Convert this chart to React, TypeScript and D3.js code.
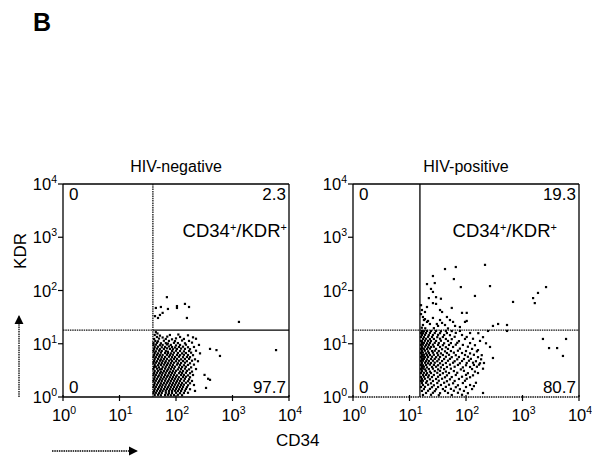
import React from 'react';
import * as d3 from 'd3';

// flow cytometry: CD34 (x) vs KDR (y), log scales 10^0..10^4
const panelTitles = ['HIV-negative', 'HIV-positive'];
const gateCD34 = [39, 15.3];
const gateKDR = [18, 18];
const labelTopLeft = ['0', '0'];
const labelTopRight = ['2.3', '19.3'];
const labelBottomLeft = ['0', '0'];
const labelBottomRight = ['97.7', '80.7'];
const tickExponents = [0, 1, 2, 3, 4];

const negativeEvents: [number, number][] = [
  // upper right
  [69, 75], [44, 47], [54, 49], [72, 45], [104, 47], [104, 51], [144, 56], [170, 49],
  [42.5, 33], [52, 34.7], [58, 38], [48, 30.5], [156, 30.5], [1300, 25.7],
  // lower right
  [44, 16.5], [47, 15.6],
  [42, 14.6], [52, 14.2], [78, 14.6], [110, 14.9], [163, 14.4],
  [46, 13.4], [58, 13.1], [70, 13.6], [118, 13.4], [200, 13.2],
  [41, 12.3], [50, 12.5], [66, 12.3], [85, 12.1], [100, 12.6], [138, 12.3], [226, 12.4],
  [43, 11.3], [48, 11.1], [61, 11.4], [75, 11.3], [96, 11.2], [128, 11.5], [170, 11.3],
  [40, 10.3], [46, 10.4], [54, 10.2], [66, 10.3], [72, 10.1], [92, 10.4], [108, 10.3], [144, 10.2], [192, 10.5],
  [40, 9.5], [44, 9.6], [52, 9.4], [58, 9.5], [69, 9.7], [81, 9.5], [100, 9.3], [118, 9.5], [150, 9.6], [255, 9.5],
  [42, 8.7], [48, 8.8], [56, 8.6], [64, 8.7], [75, 8.9], [85, 8.7], [96, 8.5], [113, 8.7], [133, 8.8], [163, 8.6], [208, 8.7],
  [41, 8.0], [46, 8.1], [52, 7.9], [61, 8.0], [69, 8.2], [78, 8.0], [88, 7.9], [104, 8.0], [123, 8.1], [144, 8.0], [177, 7.9], [400, 8.0],
  [40, 7.3], [44, 7.2], [50, 7.4], [56, 7.3], [66, 7.3], [72, 7.1], [85, 7.3], [100, 7.4], [118, 7.3], [138, 7.2], [170, 7.3], [226, 7.4], [520, 7.6],
  [42, 6.7], [48, 6.6], [54, 6.8], [64, 6.7], [72, 6.7], [81, 6.6], [92, 6.8], [108, 6.7], [128, 6.6], [150, 6.7], [185, 6.8], [266, 6.6],
  [41, 6.15], [46, 6.2], [52, 6.1], [58, 6.15], [69, 6.2], [78, 6.1], [88, 6.2], [104, 6.15], [118, 6.1], [138, 6.2], [163, 6.15], [200, 6.1],
  [40, 5.64], [44, 5.6], [50, 5.7], [56, 5.6], [64, 5.64], [75, 5.7], [85, 5.6], [96, 5.64], [113, 5.7], [133, 5.6], [156, 5.64], [177, 5.6], [600, 5.9],
  [42, 5.17], [48, 5.2], [54, 5.1], [61, 5.17], [69, 5.2], [81, 5.1], [92, 5.17], [104, 5.2], [123, 5.1], [144, 5.17], [170, 5.2], [217, 5.1],
  [41, 4.74], [46, 4.7], [52, 4.8], [58, 4.74], [66, 4.7], [75, 4.8], [85, 4.74], [100, 4.7], [113, 4.8], [133, 4.74], [156, 4.7], [192, 4.8], [245, 4.7],
  [40, 4.35], [44, 4.4], [50, 4.3], [56, 4.35], [64, 4.4], [72, 4.3], [81, 4.35], [92, 4.4], [108, 4.3], [123, 4.35], [144, 4.4], [177, 4.3],
  [42, 4.0], [48, 3.95], [54, 4.0], [61, 4.05], [69, 4.0], [78, 3.95], [88, 4.0], [104, 4.05], [118, 4.0], [138, 3.95], [163, 4.0], [208, 4.05],
  [41, 3.66], [44, 3.7], [50, 3.6], [58, 3.66], [66, 3.7], [75, 3.6], [85, 3.66], [96, 3.7], [113, 3.6], [128, 3.66], [150, 3.7], [185, 3.6],
  [40, 3.35], [46, 3.4], [52, 3.3], [56, 3.35], [64, 3.4], [72, 3.3], [81, 3.35], [92, 3.4], [108, 3.3], [123, 3.35], [144, 3.4], [170, 3.3], [226, 3.35],
  [42, 3.07], [48, 3.1], [54, 3.0], [61, 3.07], [69, 3.1], [78, 3.0], [88, 3.07], [100, 3.1], [118, 3.0], [133, 3.07], [156, 3.1], [192, 3.0],
  [41, 2.82], [46, 2.85], [52, 2.8], [58, 2.82], [66, 2.85], [75, 2.8], [85, 2.82], [96, 2.85], [113, 2.8], [128, 2.82], [150, 2.85], [177, 2.8], [320, 2.6],
  [40, 2.59], [44, 2.6], [50, 2.55], [56, 2.59], [64, 2.6], [72, 2.55], [81, 2.59], [92, 2.6], [104, 2.55], [123, 2.59], [138, 2.6], [163, 2.55], [200, 2.59],
  [42, 2.37], [48, 2.4], [54, 2.35], [61, 2.37], [69, 2.4], [78, 2.35], [88, 2.37], [100, 2.4], [113, 2.35], [133, 2.37], [150, 2.4], [177, 2.35], [370, 2.2],
  [41, 2.18], [46, 2.2], [52, 2.15], [58, 2.18], [66, 2.2], [75, 2.15], [85, 2.18], [96, 2.2], [108, 2.15], [123, 2.18], [144, 2.2], [170, 2.15],
  [40, 2.0], [44, 2.02], [50, 1.98], [56, 2.0], [64, 2.02], [72, 1.98], [81, 2.0], [92, 2.02], [104, 1.98], [118, 2.0], [138, 2.02], [163, 1.98], [192, 2.0], [400, 2.1],
  [42, 1.83], [48, 1.85], [54, 1.81], [61, 1.83], [69, 1.85], [78, 1.81], [88, 1.83], [100, 1.85], [113, 1.81], [128, 1.83], [150, 1.85], [177, 1.81],
  [41, 1.68], [46, 1.7], [52, 1.66], [58, 1.68], [66, 1.7], [75, 1.66], [85, 1.68], [96, 1.7], [108, 1.66], [123, 1.68], [138, 1.7], [163, 1.66], [208, 1.68],
  [40, 1.54], [44, 1.55], [50, 1.53], [56, 1.54], [64, 1.55], [72, 1.53], [81, 1.54], [92, 1.55], [104, 1.53], [118, 1.54], [133, 1.55], [156, 1.53], [340, 1.48],
  [42, 1.41], [48, 1.42], [54, 1.4], [61, 1.41], [69, 1.42], [78, 1.4], [88, 1.41], [100, 1.42], [113, 1.4], [128, 1.41], [150, 1.42], [177, 1.4],
  [41, 1.3], [46, 1.31], [52, 1.29], [58, 1.3], [66, 1.31], [75, 1.29], [85, 1.3], [96, 1.31], [108, 1.29], [123, 1.3], [144, 1.31], [217, 1.3],
  [40, 1.19], [44, 1.2], [50, 1.18], [56, 1.19], [66, 1.2], [75, 1.18], [85, 1.19], [100, 1.2], [118, 1.18], [138, 1.19], [163, 1.2],
  [42, 1.09], [48, 1.1], [54, 1.08], [64, 1.09], [72, 1.1], [81, 1.08], [92, 1.09], [108, 1.1], [128, 1.08],
  [5900, 7.6],
];

const positiveEvents: [number, number][] = [
  // upper right
  [42.5, 253], [66, 276], [217, 303], [26, 187], [61, 164], [20.4, 132], [28, 138], [24, 107],
  [26, 94], [81, 116], [266, 121], [144, 79], [680, 61], [1540, 72], [1880, 90], [2610, 116],
  [1650, 58], [26, 58], [29.5, 56], [20.4, 49], [18.8, 39.5], [34.7, 43], [37.7, 39.5], [56, 47],
  [85, 38], [103, 38], [46, 31.8], [52, 27.9], [59, 25.7], [96, 25.7], [103, 26.8], [37.7, 24.6],
  [30.5, 23.5], [23, 23.5], [17.3, 31.8], [18, 27.9], [20.4, 25.7], [17.3, 22.5], [370, 23.5], [300, 21.6],
  [532, 22.5], [16, 53], [16.6, 43], [16, 36], [18.8, 29], [21.3, 26.8], [26, 30.5], [32, 21.6],
  [42.5, 22.5], [64, 21.6], [78, 20.6], [34.7, 27.9], [22, 72], [29.5, 75], [36, 70], [16.5, 20], [19, 19.5],
  [27, 19.6], [48, 19.4],
  // lower right
  [16.6, 17.4], [18, 17.2], [20.4, 17.4], [24, 17.3], [29.5, 17.4], [36, 17.2], [44, 17.4], [56, 17.3], [78, 17.4], [245, 17.4], [532, 17.4],
  [16, 15.9], [17.3, 15.8], [19.6, 15.9], [23, 16], [28, 15.9], [34.7, 15.8], [46, 15.9], [66, 16], [118, 15.9], [165, 15.8],
  [16.6, 14.6], [18.8, 14.7], [22, 14.5], [26, 14.6], [32, 14.7], [41, 14.6], [52, 14.5], [85, 14.6],
  [16, 13.4], [18, 13.3], [21.3, 13.5], [25, 13.4], [31, 13.3], [39, 13.4], [63, 13.5], [103, 13.4], [200, 13.3],
  [17.3, 12.3], [19.6, 12.4], [23, 12.2], [27, 12.3], [34.7, 12.4], [44, 12.3], [56, 12.2], [96, 12.3], [133, 12.4], [2300, 12.3], [5900, 12.3],
  [16, 11.3], [16.6, 11.2], [18.8, 11.4], [21.3, 11.3], [24, 11.2], [29.5, 11.3], [36, 11.4], [48, 11.3], [75, 11.2], [177, 11.3],
  [16.6, 10.3], [18, 10.4], [20.4, 10.2], [23, 10.3], [28, 10.4], [33, 10.3], [41, 10.2], [54, 10.3], [70, 10.4], [118, 10.3], [226, 10.2],
  [16, 9.5], [17.3, 9.6], [19.6, 9.4], [22, 9.5], [26, 9.6], [32, 9.5], [39, 9.4], [50, 9.5], [66, 9.6], [88, 9.5], [144, 9.4],
  [16.6, 8.7], [18.8, 8.8], [21.3, 8.6], [24, 8.7], [27, 8.8], [34.7, 8.7], [44, 8.6], [59, 8.7], [108, 8.8], [266, 8.7], [2950, 8.3], [4100, 8.3],
  [16, 8.0], [17.3, 8.1], [18, 7.9], [20.4, 8.0], [23, 8.1], [29.5, 8.0], [37.7, 7.9], [48, 8.0], [78, 8.1], [128, 8.0],
  [16.6, 7.3], [18.8, 7.4], [21.3, 7.2], [25, 7.3], [28, 7.4], [33, 7.3], [42.5, 7.2], [54, 7.3], [72, 7.4], [100, 7.3], [156, 7.2], [163, 7.6],
  [16, 6.7], [17.3, 6.8], [19.6, 6.6], [22, 6.7], [26, 6.8], [31, 6.7], [36, 6.6], [46, 6.7], [61, 6.8], [85, 6.7], [118, 6.6],
  [16.6, 6.15], [18, 6.2], [20.4, 6.1], [23, 6.15], [27, 6.2], [32, 6.1], [39, 6.15], [50, 6.2], [66, 6.1], [96, 6.15], [138, 6.2], [190, 6.1], [5200, 5.9],
  [16, 5.64], [17.3, 5.7], [18.8, 5.6], [21.3, 5.64], [25, 5.7], [29.5, 5.6], [34.7, 5.64], [44, 5.7], [56, 5.6], [75, 5.64], [108, 5.7], [163, 5.6], [300, 5.4],
  [16.6, 5.17], [18, 5.2], [20.4, 5.1], [24, 5.17], [28, 5.2], [33, 5.1], [41, 5.17], [52, 5.2], [70, 5.1], [92, 5.17], [122, 5.2], [185, 5.1],
  [16, 4.74], [17.3, 4.8], [19.6, 4.7], [22, 4.74], [26, 4.8], [31, 4.7], [37.7, 4.74], [48, 4.8], [63, 4.7], [85, 4.74], [113, 4.8], [150, 4.7],
  [16.6, 4.35], [18.8, 4.4], [21.3, 4.3], [24, 4.35], [28, 4.4], [34.7, 4.3], [44, 4.35], [59, 4.4], [78, 4.3], [103, 4.35], [133, 4.4], [177, 4.3], [208, 4.35],
  [16, 4.0], [17.3, 3.95], [19.6, 4.0], [23, 4.05], [27, 4.0], [32, 3.95], [39, 4.0], [52, 4.05], [72, 4.0], [100, 3.95], [138, 4.0], [170, 4.05],
  [16.6, 3.66], [18, 3.7], [20.4, 3.6], [25, 3.66], [29.5, 3.7], [36, 3.6], [46, 3.66], [63, 3.7], [88, 3.6], [118, 3.66], [156, 3.7],
  [16, 3.35], [17.3, 3.4], [18.8, 3.3], [22, 3.35], [26, 3.4], [32, 3.3], [41, 3.35], [54, 3.4], [81, 3.3], [128, 3.35], [200, 3.4],
  [16.6, 3.07], [19.6, 3.1], [23, 3.0], [28, 3.07], [34.7, 3.1], [44, 3.0], [61, 3.07], [92, 3.1], [144, 3.0],
  [16, 2.82], [18, 2.85], [20.4, 2.8], [24, 2.82], [31, 2.85], [39, 2.8], [50, 2.82], [70, 2.85], [108, 2.8], [163, 2.82],
  [17.3, 2.59], [19.6, 2.6], [22, 2.55], [27, 2.59], [34.7, 2.6], [46, 2.55], [66, 2.59], [100, 2.6], [133, 2.55],
  [16, 2.37], [18, 2.4], [21.3, 2.35], [25, 2.37], [32, 2.4], [42.5, 2.35], [56, 2.37], [85, 2.4], [118, 2.35],
  [16.6, 2.18], [18.8, 2.2], [23, 2.15], [29.5, 2.18], [37.7, 2.2], [52, 2.15], [75, 2.18], [103, 2.2],
  [16, 2.0], [17.3, 2.02], [20.4, 1.98], [26, 2.0], [33, 2.02], [46, 1.98], [63, 2.0], [96, 2.02],
  [16.6, 1.83], [19.6, 1.85], [24, 1.81], [31, 1.83], [41, 1.85], [59, 1.81], [88, 1.83], [150, 1.85],
  [17.3, 1.68], [21.3, 1.7], [27, 1.66], [36, 1.68], [50, 1.7], [72, 1.66], [118, 1.68], [138, 1.6],
  [16, 1.54], [18.8, 1.55], [25, 1.53], [32, 1.54], [44, 1.55], [66, 1.53], [100, 1.54],
  [18, 1.41], [23, 1.42], [29.5, 1.4], [39, 1.41], [54, 1.42], [78, 1.4], [128, 1.41],
  [16.6, 1.3], [21.3, 1.31], [28, 1.29], [42.5, 1.3], [61, 1.31], [92, 1.3],
  [19.6, 1.19], [26, 1.2], [34.7, 1.18], [48, 1.19], [72, 1.2], [108, 1.18], [200, 1.19],
  [17.3, 1.09], [24, 1.1], [33, 1.08], [56, 1.09], [85, 1.1],
];

const panelLeft = [63, 353];
const panelTop = 184;
const panelBottom = 397;
const panelWidth = 226;
const font = '"Liberation Sans", Arial, Helvetica, sans-serif';

const Sup = ({ base, exp }: { base: string; exp: string | number }) => (
  <>
    <tspan>{base}</tspan>
    <tspan dy={-7} fontSize={10.5}>{exp}</tspan>
  </>
);

const Panel = ({ idx, events }: { idx: number; events: [number, number][] }) => {
  const x0 = panelLeft[idx];
  const x1 = x0 + panelWidth;
  const x = d3.scaleLog().domain([1, 1e4]).range([x0, x1]);
  const y = d3.scaleLog().domain([1, 1e4]).range([panelBottom, panelTop]);
  const gx = x(gateCD34[idx]);
  const gy = y(gateKDR[idx]);
  const dotted = { stroke: '#111', strokeWidth: 1.3, strokeDasharray: '1.5,0.8' };
  const solid = { stroke: '#000', strokeWidth: 1.3 };
  const isNeg = idx === 0;
  return (
    <g fontFamily={font} fill="#000">
      <text x={(x0 + x1) / 2} y={172} fontSize={16} textAnchor="middle">{panelTitles[idx]}</text>
      {/* frame */}
      <line x1={x0} x2={x0} y1={panelTop} y2={panelBottom} {...solid} />
      <line x1={x0} x2={x1} y1={panelTop} y2={panelTop} {...solid} />
      <line x1={x1} x2={x1} y1={panelTop} y2={panelBottom} {...solid} />
      <line x1={x0} x2={x1} y1={panelBottom} y2={panelBottom} {...(isNeg ? solid : dotted)} />
      {/* gates */}
      <line x1={gx} x2={gx} y1={panelTop} y2={panelBottom} {...(isNeg ? dotted : solid)} />
      <line x1={x0} x2={gx} y1={gy} y2={gy} {...dotted} />
      <line x1={gx} x2={x1} y1={gy} y2={gy} {...(isNeg ? solid : dotted)} />
      {/* ticks */}
      {tickExponents.map(k => (
        <g key={k}>
          <line x1={x0 - 5} x2={x0} y1={y(10 ** k)} y2={y(10 ** k)} stroke="#000" strokeWidth={1.2} />
          <line x1={x(10 ** k)} x2={x(10 ** k)} y1={panelBottom - 2} y2={panelBottom + 4} stroke="#000" strokeWidth={1.2} />
          <text x={x0 - 6} y={y(10 ** k) + 6} fontSize={16.5} textAnchor="end">
            <Sup base="10" exp={k} />
          </text>
          <text x={x(10 ** k) + 1} y={421} fontSize={16.5} textAnchor="middle">
            <Sup base="10" exp={k} />
          </text>
        </g>
      ))}
      {/* events */}
      {events.map(([cd34, kdr], i) => (
        <rect key={i} x={x(cd34) - 1.1} y={y(kdr) - 1.1} width={2.2} height={2.2} fill="#000" />
      ))}
      {/* quadrant percentages */}
      <text x={x0 + 6} y={200} fontSize={17}>{labelTopLeft[idx]}</text>
      <text x={x1 - 3} y={200} fontSize={17} textAnchor="end">{labelTopRight[idx]}</text>
      <text x={x0 + 6} y={393} fontSize={17}>{labelBottomLeft[idx]}</text>
      <text x={x1 - 3} y={393} fontSize={17} textAnchor="end">{labelBottomRight[idx]}</text>
      <text x={isNeg ? x1 - 2 : x1 - 22} y={237} fontSize={18.5} textAnchor="end">
        <tspan>CD34</tspan>
        <tspan dy={-6} fontSize={11}>+</tspan>
        <tspan dy={6}>/KDR</tspan>
        <tspan dy={-6} fontSize={11}>+</tspan>
      </text>
    </g>
  );
};

export default function App() {
  return (
    <svg width={592} height={460} style={{ position: 'absolute', left: 0, top: 0, background: '#fff' }}>
      <defs>
        <marker id="arrowHead" viewBox="0 0 10 10" refX="9" refY="5" markerWidth="7" markerHeight="7" orient="auto">
          <path d="M0,0 L10,5 L0,10 z" fill="#000" />
        </marker>
      </defs>
      <text x={33} y={31} fontFamily={font} fontSize={25} fontWeight="bold">B</text>
      <Panel idx={0} events={negativeEvents} />
      <Panel idx={1} events={positiveEvents} />
      <text transform="translate(26,251) rotate(-90)" fontFamily={font} fontSize={17} textAnchor="middle">KDR</text>
      <line x1={19} x2={19} y1={397} y2={316} stroke="#000" strokeWidth={1.3} strokeDasharray="1.5,0.8" markerEnd="url(#arrowHead)" />
      <line x1={52} x2={137} y1={451} y2={451} stroke="#000" strokeWidth={1.3} strokeDasharray="1.5,0.8" markerEnd="url(#arrowHead)" />
      <text x={276} y={446} fontFamily={font} fontSize={17}>CD34</text>
    </svg>
  );
}
